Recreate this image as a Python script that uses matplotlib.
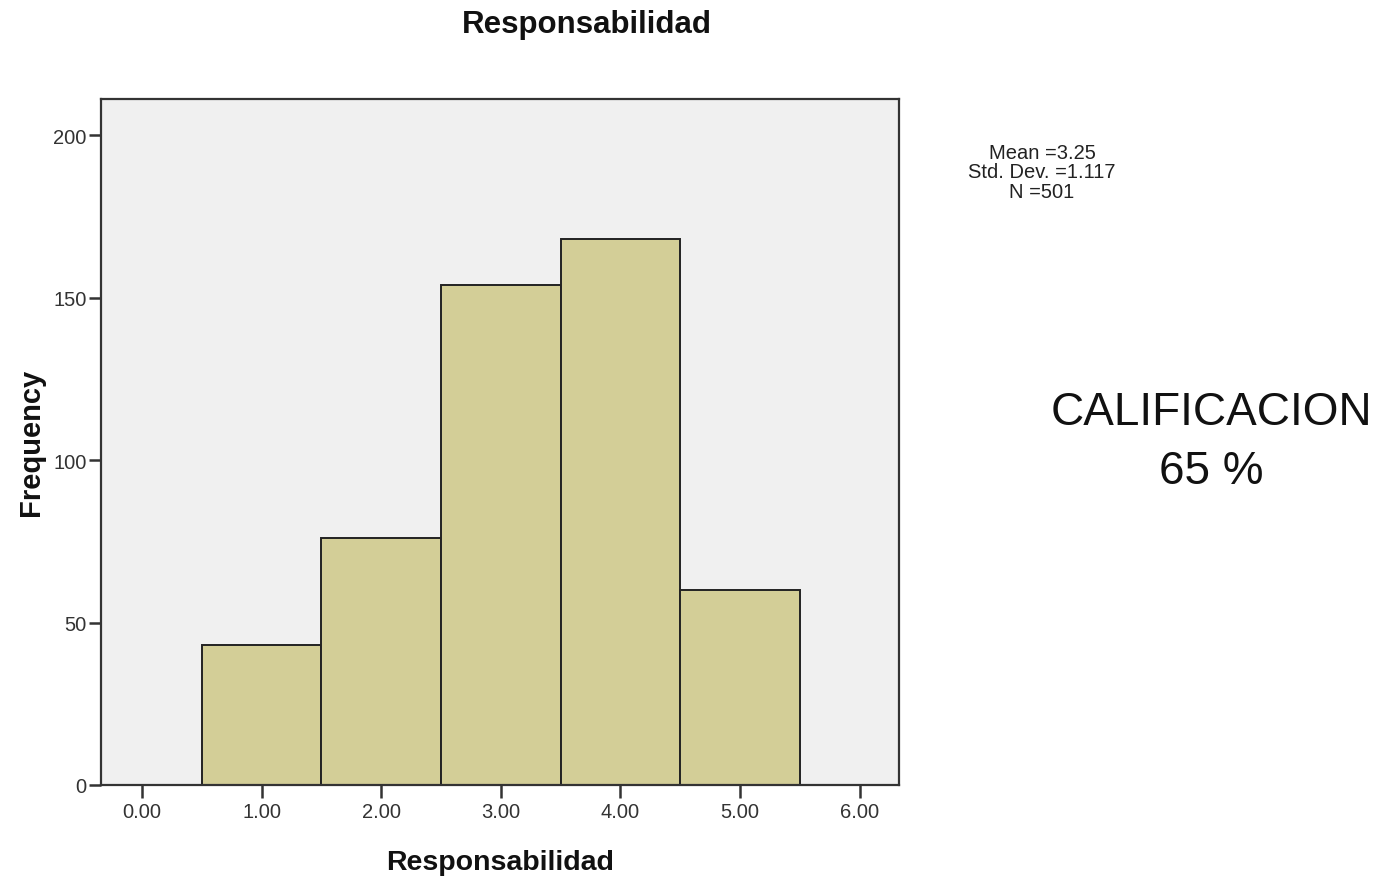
import matplotlib
matplotlib.use("Agg")
import matplotlib.pyplot as plt

bin_centers = [1, 2, 3, 4, 5]
frequencies = [43, 76, 154, 168, 60]
x_ticks = [0, 1, 2, 3, 4, 5, 6]
x_tick_labels = ["0.00", "1.00", "2.00", "3.00", "4.00", "5.00", "6.00"]
y_ticks = [0, 50, 100, 150, 200]
title = "Responsabilidad"
x_label = "Responsabilidad"
y_label = "Frequency"
stats_text = "Mean =3.25\nStd. Dev. =1.117\nN =501"
note_text = "CALIFICACION\n65 %"

W, H = 1397, 878
fig = plt.figure(figsize=(W/100, H/100), dpi=100)
fig.patch.set_facecolor("white")
ax = fig.add_axes([101/W, 1-786/H, (899-101)/W, (786-100)/H])
ax.set_facecolor("#F0F0F0")
ax.bar(bin_centers, frequencies, width=1.0, color="#D3CE97", edgecolor="#222222", linewidth=1.4)
ax.set_xlim(-0.343, 6.33)
ax.set_ylim(0, 211.1)
ax.set_xticks(x_ticks)
ax.set_xticklabels(x_tick_labels, fontfamily="Liberation Sans", fontsize=14.5, color="#333333")
ax.set_yticks(y_ticks)
ax.set_yticklabels([str(v) for v in y_ticks], fontfamily="Liberation Sans", fontsize=14.5, color="#333333")
ax.tick_params(axis="x", direction="out", length=9, width=1.8, color="#333333", pad=3)
ax.tick_params(axis="y", direction="out", length=9, width=1.8, color="#333333", pad=1.5)
for s in ax.spines.values():
    s.set_linewidth(1.6)
    s.set_color("#333333")

fig.text(586.5/W, 1-33/H, title, ha="center", va="baseline", fontfamily="Liberation Sans",
         fontweight="bold", fontsize=22.5, color="#111111")
fig.text(500/W, 1-870/H, x_label, ha="center", va="baseline", fontfamily="Liberation Sans",
         fontweight="bold", fontsize=20.5, color="#111111")
fig.text(31/W, 1-442/H, y_label, ha="center", va="center", rotation=90, fontfamily="Liberation Sans",
         fontweight="bold", fontsize=21, color="#111111")
fig.text(1042/W, 1-173/H, stats_text, ha="center", va="center", fontfamily="Liberation Sans",
         fontsize=14.5, color="#222222", linespacing=1.05)
fig.text(1211/W, 1-442.5/H, note_text, ha="center", va="center", fontfamily="Liberation Sans",
         fontsize=33, color="#111111", linespacing=1.45)

fig.savefig("out.png", dpi=100)
